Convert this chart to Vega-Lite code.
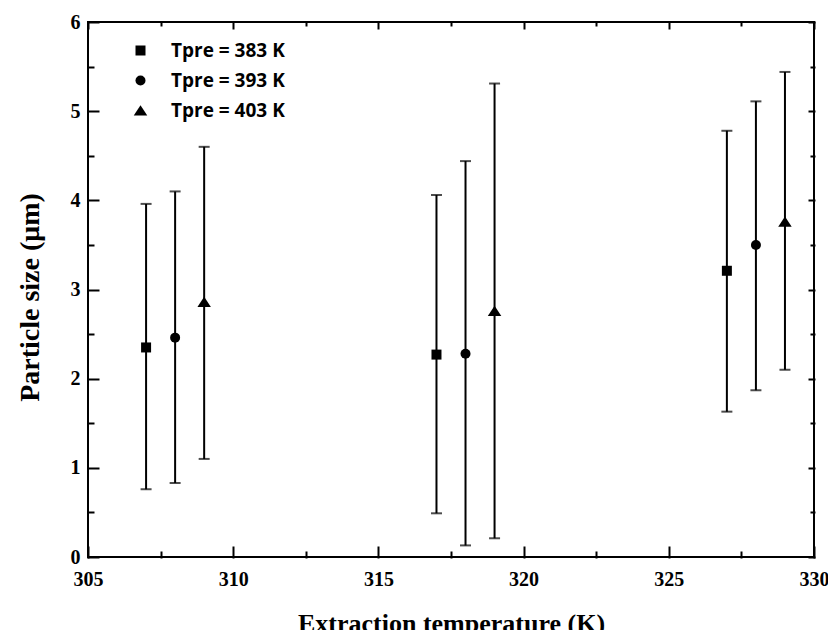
{
  "$schema": "https://vega.github.io/schema/vega-lite/v6.json",
  "width": 726,
  "height": 535,
  "autosize": "none",
  "padding": {"left": 88, "top": 22, "right": 14, "bottom": 73},
  "background": "white",
  "config": {
    "view": {"stroke": "black", "strokeWidth": 2, "fill": "transparent"},
    "axis": {
      "domain": false, "ticks": true, "tickColor": "black", "tickOpacity": 1, "tickWidth": 2, "tickCap": "square", "zindex": 1,
      "grid": false, "labelFont": "Liberation Serif", "labelFontWeight": "bold", "labelFontSize": 20,
      "labelColor": "black", "titleFont": "Liberation Serif", "titleFontWeight": "bold",
      "titleFontSize": 26, "titleColor": "black", "labelFlush": false
    }
  },
  "data": {"values": [
    {"t": 307, "series": "Tpre = 383 K", "size": 2.35, "lo": 0.76, "hi": 3.96},
    {"t": 308, "series": "Tpre = 393 K", "size": 2.46, "lo": 0.83, "hi": 4.10},
    {"t": 309, "series": "Tpre = 403 K", "size": 2.86, "lo": 1.10, "hi": 4.60},
    {"t": 317, "series": "Tpre = 383 K", "size": 2.27, "lo": 0.49, "hi": 4.06},
    {"t": 318, "series": "Tpre = 393 K", "size": 2.28, "lo": 0.13, "hi": 4.44},
    {"t": 319, "series": "Tpre = 403 K", "size": 2.76, "lo": 0.21, "hi": 5.31},
    {"t": 327, "series": "Tpre = 383 K", "size": 3.21, "lo": 1.63, "hi": 4.78},
    {"t": 328, "series": "Tpre = 393 K", "size": 3.50, "lo": 1.87, "hi": 5.11},
    {"t": 329, "series": "Tpre = 403 K", "size": 3.76, "lo": 2.10, "hi": 5.44}
  ]},
  "layer": [
    {
      "mark": {"type": "rule", "color": "black", "strokeWidth": 2},
      "encoding": {
        "x": {"field": "t", "type": "quantitative", "scale": {"domain": [305, 330], "nice": false, "zero": false},
          "axis": {"orient": "bottom", "title": "Extraction temperature (K)", "values": [305, 310, 315, 320, 325, 330],
            "ticks": true, "tickColor": "black", "tickWidth": 2, "tickOpacity": 1, "zindex": 1,
            "format": "d", "offset": -10, "tickSize": 10, "labelPadding": 12, "titleY": 63}},
        "y": {"field": "lo", "type": "quantitative", "scale": {"domain": [0, 6], "nice": false},
          "axis": {"orient": "left", "title": "Particle size (μm)", "values": [0, 1, 2, 3, 4, 5, 6],
            "ticks": true, "tickColor": "black", "tickWidth": 2, "tickOpacity": 1, "zindex": 1,
            "format": "d", "offset": -10, "tickSize": 10, "labelPadding": 8, "titleX": -54, "titleY": 275, "titleFontSize": 28}},
        "y2": {"field": "hi"}
      }
    },
    {
      "mark": {"type": "tick", "color": "black", "orient": "horizontal", "thickness": 2, "size": 11},
      "encoding": {
        "x": {"field": "t", "type": "quantitative",
          "axis": {"orient": "bottom", "title": null, "labels": false, "offset": -5, "tickSize": 5,
            "ticks": true, "tickColor": "black", "tickWidth": 2, "tickOpacity": 1, "zindex": 1,
            "values": [307.5, 312.5, 317.5, 322.5, 327.5]}},
        "y": {"field": "lo", "type": "quantitative",
          "axis": {"orient": "left", "title": null, "labels": false, "offset": -5, "tickSize": 5,
            "ticks": true, "tickColor": "black", "tickWidth": 2, "tickOpacity": 1, "zindex": 1,
            "values": [0.5, 1.5, 2.5, 3.5, 4.5, 5.5]}}
      }
    },
    {
      "mark": {"type": "tick", "color": "black", "orient": "horizontal", "thickness": 2, "size": 11},
      "encoding": {
        "x": {"field": "t", "type": "quantitative",
          "axis": {"orient": "top", "title": null, "labels": false, "offset": -6, "tickSize": 6,
            "ticks": true, "tickColor": "black", "tickWidth": 2, "tickOpacity": 1, "zindex": 1,
            "values": [305, 310, 315, 320, 325, 330]}},
        "y": {"field": "hi", "type": "quantitative",
          "axis": {"orient": "right", "title": null, "labels": false, "offset": -5, "tickSize": 5,
            "ticks": true, "tickColor": "black", "tickWidth": 2, "tickOpacity": 1, "zindex": 1,
            "values": [0, 1, 2, 3, 4, 5, 6]}}
      }
    },
    {
      "mark": {"type": "point", "filled": true, "color": "black", "opacity": 1, "size": 100},
      "encoding": {
        "x": {"field": "t", "type": "quantitative",
          "axis": {"orient": "top", "title": null, "labels": false, "offset": -3, "tickSize": 3,
            "ticks": true, "tickColor": "black", "tickWidth": 2, "tickOpacity": 1, "zindex": 1,
            "values": [307.5, 312.5, 317.5, 322.5, 327.5]}},
        "y": {"field": "size", "type": "quantitative",
          "axis": {"orient": "right", "title": null, "labels": false, "offset": -3, "tickSize": 3,
            "ticks": true, "tickColor": "black", "tickWidth": 2, "tickOpacity": 1, "zindex": 1,
            "values": [0.5, 1.5, 2.5, 3.5, 4.5, 5.5]}},
        "shape": {"field": "series", "type": "nominal",
          "scale": {"domain": ["Tpre = 383 K", "Tpre = 393 K", "Tpre = 403 K"], "range": ["square", "circle", "M0,-1.05L1.35,1.0L-1.35,1.0Z"]},
          "legend": {"title": null, "orient": "none", "legendX": 43, "legendY": 19,
            "labelFont": "Open Sans", "labelFontWeight": "bold", "labelFontSize": 19, "labelColor": "black",
            "symbolFillColor": "black", "symbolStrokeColor": "black", "symbolOpacity": 1, "symbolSize": 100,
            "rowPadding": 10, "labelOffset": 21, "symbolStrokeWidth": 0}}
      }
    }
  ]
}
